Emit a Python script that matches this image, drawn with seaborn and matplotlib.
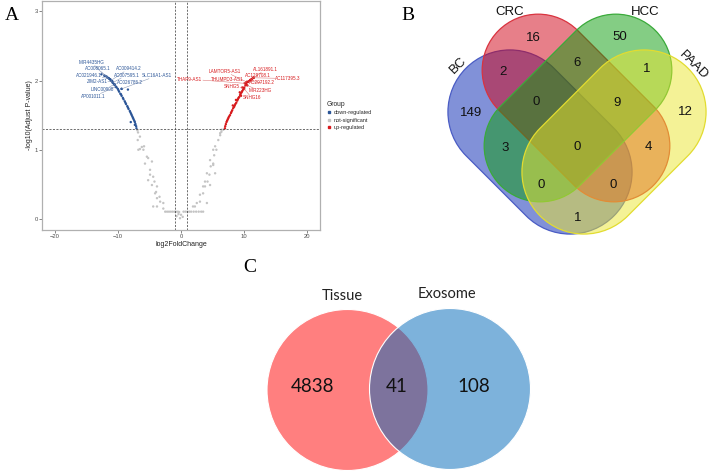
import numpy as np
import pandas as pd
import matplotlib
matplotlib.use('Agg')
import matplotlib.pyplot as plt
import seaborn as sns
from matplotlib.patches import PathPatch, Circle
from matplotlib.path import Path
from matplotlib.lines import Line2D
from matplotlib.transforms import Affine2D

sns.set_theme(style='white')
plt.rcParams['font.family'] = ['Liberation Sans', 'DejaVu Sans']

# ---------------- A: volcano data ----------------
down_x = [-12.6, -12.1, -11.8, -11.6, -11.4, -11.2, -11.1, -10.9, -10.8, -10.6, -10.5, -10.3, -10.2,
          -10.0, -9.9, -9.8, -9.6, -9.5, -9.4, -9.2, -9.1, -8.9, -8.8, -8.7, -8.5, -8.4, -8.3, -8.1,
          -8.0, -7.9, -7.8, -7.7, -7.6, -7.5, -7.4, -7.3, -7.2, -7.1, -7.05, -8.4, -9.4, -7.95, -7.3]
down_y = [2.09, 2.07, 2.06, 2.04, 2.03, 2.02, 2.00, 1.99, 1.97, 1.95, 1.94, 1.91, 1.90,
          1.88, 1.86, 1.84, 1.81, 1.80, 1.78, 1.75, 1.73, 1.70, 1.68, 1.66, 1.63, 1.61, 1.59, 1.56,
          1.54, 1.52, 1.50, 1.48, 1.46, 1.44, 1.42, 1.40, 1.37, 1.34, 1.31, 1.87, 1.88, 1.40, 1.36]

up_x = [6.95, 7.0, 7.1, 7.2, 7.3, 7.4, 7.5, 7.6, 7.75, 7.9, 8.0, 8.1, 8.25, 8.4, 8.5, 8.6, 8.75,
        8.9, 9.0, 9.1, 9.2, 9.35, 9.45, 9.6, 9.7, 9.85, 10.0, 10.2, 10.35, 10.6, 10.9, 11.2,
        8.7, 9.3, 9.5, 8.2, 11.5, 11.0, 10.4]
up_y = [1.31, 1.34, 1.37, 1.40, 1.42, 1.44, 1.46, 1.48, 1.50, 1.53, 1.55, 1.57, 1.60, 1.62, 1.64,
        1.66, 1.68, 1.71, 1.73, 1.75, 1.76, 1.79, 1.81, 1.83, 1.85, 1.87, 1.90, 1.93, 1.95, 1.98,
        2.00, 2.02, 1.72, 1.83, 1.78, 1.64, 2.04, 2.01, 1.98]

ns_x = [-6.9, -6.8, -6.85, -6.5, -6.5, -6.2, -5.85, -5.95, -6.75, -5.4, -5.2, -5.7, -4.6, -4.9,
        -4.9, -5.2, -4.4, -4.2, -4.6, -3.8, -3.95, -4.1, -3.4, -3.8, -3.3, -2.8, -4.4, -3.8, -2.8,
        -2.5, -2.2, -1.9, -1.6, -1.3, -1.0, -0.8, -0.5, -0.3,
        -0.7, -0.16, 0.27, 0.0, -0.4,
        0.4, 0.7, 1.0, 1.3, 1.6, 2.0, 2.4, 2.8, 3.2, 3.5,
        1.9, 2.2, 2.5, 3.0, 4.1, 3.0, 3.5, 3.8, 4.6, 3.5, 4.2, 3.8, 4.5, 4.1, 5.4, 4.7, 5.1, 5.1,
        4.6, 5.25, 5.6, 5.1, 5.4, 5.9, 6.2, 6.2, 6.4, 6.4, 6.7]
ns_y = [1.28, 1.25, 1.14, 1.19, 1.01, 1.04, 1.05, 1.00, 1.00, 0.90, 0.88, 0.80, 0.83, 0.71,
        0.64, 0.56, 0.61, 0.54, 0.49, 0.47, 0.39, 0.37, 0.32, 0.30, 0.25, 0.23, 0.18, 0.18, 0.15,
        0.105, 0.105, 0.105, 0.105, 0.105, 0.105, 0.105, 0.105, 0.10,
        0.04, 0.01, 0.03, 0.06, 0.07,
        0.105, 0.105, 0.105, 0.105, 0.105, 0.105, 0.105, 0.105, 0.105, 0.105,
        0.18, 0.18, 0.23, 0.25, 0.23, 0.35, 0.37, 0.47, 0.49, 0.47, 0.54, 0.54, 0.64, 0.66, 0.66,
        0.76, 0.80, 0.78, 0.85, 0.92, 1.00, 1.00, 1.05, 1.14, 1.21, 1.24, 1.26, 1.29, 1.29]

down_genes = ['MIR4435HG', 'AC008065.1', 'AC009414.2', 'AC021946.1', 'AC007595.1', 'SLC16A1-AS1',
              'ZIM2-AS1', 'AC026786.2', 'LINC00908', 'AP001011.1']
down_gene_x = [-12.1, -11.6, -11.1, -11.4, -10.8, -9.4, -10.9, -10.6, -10.5, -10.3]
down_gene_y = [2.07, 2.04, 2.00, 2.03, 1.97, 1.88, 1.99, 1.95, 1.94, 1.91]
up_genes = ['LAMTOR5-AS1', 'AL161891.1', 'AC129708.1', 'THAP9-AS1', 'THUMPD3-AS1', 'AC117395.3',
            'AC297192.2', 'SNHG5', 'MIR223HG', 'SNHG16']
up_gene_x = [10.4, 11.3, 11.0, 10.1, 10.3, 11.5, 10.7, 9.7, 10.5, 10.0]
up_gene_y = [1.98, 2.03, 2.01, 1.96, 1.97, 2.04, 1.99, 1.90, 1.93, 1.88]

# label placement (repel-like positions)
down_lab_pos = [(-14.1, 2.26), (-13.1, 2.17), (-8.3, 2.17), (-14.6, 2.07), (-8.6, 2.08),
                (-3.8, 2.07), (-13.3, 1.98), (-8.05, 1.97), (-12.5, 1.87), (-13.85, 1.77)]
up_lab_pos = [(6.95, 2.13), (13.4, 2.16), (12.2, 2.07), (1.4, 2.02), (7.3, 2.02),
              (16.95, 2.03), (12.75, 1.97), (8.0, 1.92), (12.5, 1.85), (11.2, 1.75)]

groups = ['down-regulated', 'not-significant', 'up-regulated']
group_colors = ['#2b5597', '#c4c4c4', '#d7191c']

# ---------------- B: four-set venn ----------------
venn4_sets = ['BC', 'CRC', 'HCC', 'PAAD']
venn4_counts = [149, 16, 50, 12, 2, 6, 1, 0, 9, 3, 0, 4, 0, 0, 1]
venn4_face = [(0.02, 0.14, 0.70, 0.5), (0.82, 0.0, 0.08, 0.5), (0.04, 0.61, 0.04, 0.5), (0.92, 0.90, 0.18, 0.5)]
venn4_edge = ['#4a5cc4', '#d9333f', '#3aaa3a', '#e2dc30']

# ---------------- C: two-set venn ----------------
venn2_sets = ['Tissue', 'Exosome']
venn2_counts = [4838, 41, 108]

fig = plt.figure(figsize=(7.14, 4.75), dpi=100)

# overlay axes in pixel units for panels B and C
ax_v = fig.add_axes([0, 0, 1, 1], zorder=0)
ax_v.set_xlim(0, 714); ax_v.set_ylim(475, 0); ax_v.axis('off')

# ---- panel A ----
ax = fig.add_axes([42/714, 1 - 230/475, 278/714, 229/475], zorder=2)
df = pd.concat([
    pd.DataFrame({'log2FC': down_x + down_gene_x, 'logP': down_y + down_gene_y, 'Group': groups[0]}),
    pd.DataFrame({'log2FC': ns_x, 'logP': ns_y, 'Group': groups[1]}),
    pd.DataFrame({'log2FC': up_x + up_gene_x, 'logP': up_y + up_gene_y, 'Group': groups[2]}),
], ignore_index=True)
sns.scatterplot(data=df, x='log2FC', y='logP', hue='Group', hue_order=groups,
                palette=group_colors, s=3, linewidth=0, ax=ax, legend=False)
ax.axhline(-np.log10(0.05), color='#333333', lw=0.5, ls=(0, (3, 2)))
ax.axvline(-1, color='#333333', lw=0.5, ls=(0, (3, 2)))
ax.axvline(1, color='#333333', lw=0.5, ls=(0, (3, 2)))
ax.set_xlim(-22, 22); ax.set_ylim(-0.16, 3.15)
ax.set_xticks([-20, -10, 0, 10, 20]); ax.set_yticks([0, 1, 2, 3])
ax.set_xlabel('log2FoldChange', fontsize=5, labelpad=1, color='#222222')
ax.set_ylabel('-log10(Adjust P-value)', fontsize=5, labelpad=1, color='#222222')
ax.tick_params(labelsize=4.2, length=2, width=0.5, color='#555555', labelcolor='#4d4d4d', pad=1,
               bottom=True, left=True)
for sp in ax.spines.values():
    sp.set_color('#b0b0b0'); sp.set_linewidth(0.9)

for g, gx, gy, (lx, ly) in zip(down_genes, down_gene_x, down_gene_y, down_lab_pos):
    ax.annotate(g, xy=(gx, gy), xytext=(lx, ly), fontsize=3.3, color='#2b5597', ha='center', va='center',
                bbox=dict(boxstyle='square,pad=0.1', fc='none', ec='none'),
                arrowprops=dict(arrowstyle='-', lw=0.35, color='#7f8fb0', shrinkA=0, shrinkB=0))
for g, gx, gy, (lx, ly) in zip(up_genes, up_gene_x, up_gene_y, up_lab_pos):
    ax.annotate(g, xy=(gx, gy), xytext=(lx, ly), fontsize=3.3, color='#d7191c', ha='center', va='center',
                bbox=dict(boxstyle='square,pad=0.1', fc='none', ec='none'),
                arrowprops=dict(arrowstyle='-', lw=0.35, color='#d86a6a', shrinkA=0, shrinkB=0))

handles = [Line2D([], [], marker='s', ls='', color=c, markersize=1.6) for c in group_colors]
leg = ax.legend(handles, groups, title='Group', loc='upper left', bbox_to_anchor=(324/714, 1 - 98/475),
                bbox_transform=fig.transFigure, frameon=False, fontsize=4, title_fontsize=4.8,
                handlelength=0.8, handletextpad=0.4, labelspacing=0.45, borderpad=0)
leg._legend_box.align = 'left'

# ---- panel B ----
def stadium(cx, cy, length, r, ang):
    h = length / 2 - r
    a1 = Path.arc(-90, 90)
    a2 = Path.arc(90, 270)
    verts = np.vstack([a1.vertices * r + [h, 0], a2.vertices * r + [-h, 0], [[h, -r]]])
    codes = list(a1.codes) + [Path.LINETO] + list(a2.codes[1:]) + [Path.CLOSEPOLY]
    return Path(verts, codes), Affine2D().rotate_deg(ang).translate(cx, cy)

venn4_shape = [(540, 142, 209, 62, 45), (576, 108, 219, 56, 45),
               (578, 108, 219, 56, -45), (614, 142, 209, 62, -45)]
for (cx, cy, L, r, ang), fc, ec in zip(venn4_shape, venn4_face, venn4_edge):
    path, tr = stadium(cx, cy, L, r, ang)
    ax_v.add_patch(PathPatch(path, fc=fc, ec=ec, lw=0.9, transform=tr + ax_v.transData))

venn4_pos = [(471, 113), (533, 38), (620, 37), (685, 112), (503, 72), (577, 63), (647, 69),
             (536, 102), (617, 103), (505, 148), (577, 147), (648, 147), (541, 185), (613, 185), (578, 218)]
for n, (px, py) in zip(venn4_counts, venn4_pos):
    ax_v.text(px, py, str(n), fontsize=9.5, ha='center', va='center', color='#111111')
venn4_lab = [(458, 65, 45), (510, 12, 0), (645, 12, 0), (693, 65, -45)]
for s, (px, py, rot) in zip(venn4_sets, venn4_lab):
    ax_v.text(px, py, s, fontsize=9.5, ha='center', va='center', rotation=rot, color='#111111')

# ---- panel C ----
ax_v.add_patch(Circle((347.5, 390), 80.5, fc=(1, 0, 0, 0.5), ec='white', lw=0.8))
ax_v.add_patch(Circle((450, 389), 80.5, fc=(0, 104/255, 186/255, 0.51), ec='white', lw=0.8))
for n, (px, py) in zip(venn2_counts, [(313, 386), (397, 386), (474, 387)]):
    ax_v.text(px, py, str(n), fontsize=13.5, ha='center', va='center', family='Lato', color='#111111')
for s, (px, py) in zip(venn2_sets, [(342, 296), (447, 294)]):
    ax_v.text(px, py, s, fontsize=10.5, ha='center', va='center', family='Lato', color='#222222')

# panel letters
for letter, (px, py) in zip(['A', 'B', 'C'], [(12, 15), (408, 15), (250, 268)]):
    ax_v.text(px, py, letter, fontsize=14, ha='center', va='center', family='Liberation Serif', color='black')

fig.savefig('out.png', dpi=100)
